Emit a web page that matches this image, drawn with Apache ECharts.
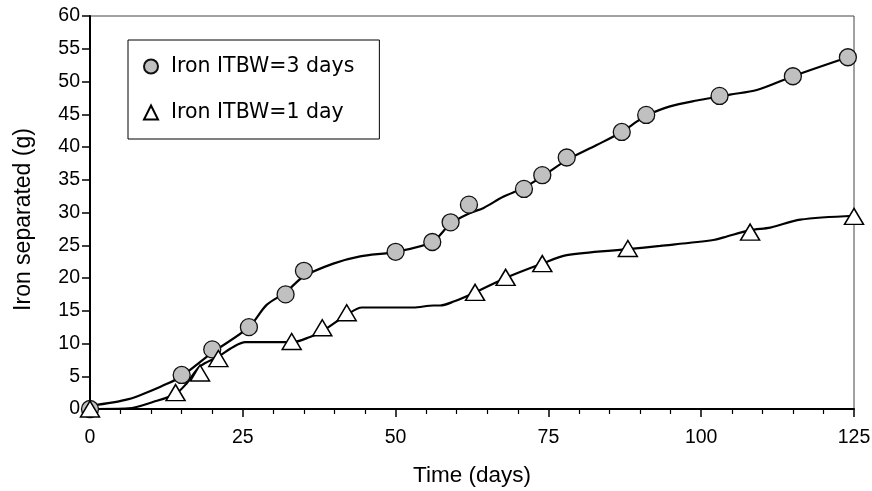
<!DOCTYPE html>
<html><head><meta charset="utf-8">
<script src="https://cdn.jsdelivr.net/npm/echarts@6/dist/echarts.min.js"></script>
<style>html,body{margin:0;padding:0;background:#fff}#c{width:872px;height:491px}</style>
</head><body><div id="c"></div>
<script>
// Measured points: Iron ITBW=3 days (circles)
const days3 = [0, 15, 20, 26, 32, 35, 50, 56, 59, 62, 71, 74, 78, 87, 91, 103, 115, 124];
const iron3 = [0, 5.2, 9.1, 12.5, 17.5, 21.1, 24.0, 25.5, 28.5, 31.2, 33.6, 35.7, 38.4, 42.3, 44.9, 47.8, 50.8, 53.7];
// Measured points: Iron ITBW=1 day (triangles)
const days1 = [0, 14, 18, 21, 33, 38, 42, 63, 68, 74, 88, 108, 125];
const iron1 = [0, 2.5, 5.5, 7.7, 10.3, 12.4, 14.7, 17.8, 20.1, 22.2, 24.5, 27.0, 29.4];
// Trend curves
const trend3X = [0, 6.3, 12.5, 15, 20, 26, 28.9, 32, 34.9, 39.8, 44.2, 50, 56, 59, 62.1, 64.4, 67.6, 71, 74, 78, 82.9, 87, 89.5, 91, 94.9, 99.3, 103, 104.7, 109.1, 115, 124];
const trend3Y = [0.5, 1.5, 3.8, 5.0, 8.6, 12.5, 15.9, 17.8, 20.2, 22.2, 23.3, 24.0, 25.5, 28.3, 29.9, 30.7, 32.4, 33.8, 35.5, 38.0, 40.3, 42.3, 43.9, 44.8, 46.2, 47.1, 47.7, 48.0, 48.7, 50.8, 53.7];
const trend1X = [0, 6.3, 10.4, 14, 15.8, 18, 21, 23.5, 25.4, 33.1, 36, 37.9, 42.2, 44.5, 52.9, 56.2, 57.3, 59.5, 63, 68, 74, 78, 88, 93.3, 102, 103.7, 108, 111.3, 116.2, 125];
const trend1Y = [0, 0.1, 1.1, 2.3, 3.9, 6.5, 8.0, 9.5, 10.2, 10.2, 11.0, 11.8, 14.5, 15.5, 15.5, 15.8, 15.8, 16.4, 17.8, 20.0, 22.2, 23.5, 24.4, 24.9, 25.8, 26.2, 27.3, 27.7, 28.9, 29.5];
const xTicks = [0, 25, 50, 75, 100, 125];
const yTicks = [0, 5, 10, 15, 20, 25, 30, 35, 40, 45, 50, 55, 60];

const zip = (a, b) => a.map((v, i) => [v, b[i]]);
const chart = echarts.init(document.getElementById('c'));
const axisFont = { fontFamily: 'Liberation Sans, Arial', fontSize: 19.5, color: '#000' };
chart.setOption({
  animation: false,
  grid: { left: 90, right: 18, top: 16, bottom: 82, show: true, borderColor: '#444', borderWidth: 1,
          containLabel: false, outerBoundsMode: 'none' },
  legend: {
    left: 128, top: 40, orient: 'vertical',
    data: [
      { name: 'Iron ITBW=3 days', icon: 'circle' },
      { name: 'Iron ITBW=1 day', icon: 'triangle' }
    ],
    itemWidth: 14, itemHeight: 14, itemGap: 25,
    padding: [16, 25, 16, 15],
    borderColor: '#000', borderWidth: 1,
    textStyle: { fontFamily: 'DejaVu Sans', fontSize: 20.5, color: '#000', padding: [0, 0, 0, 8] }
  },
  xAxis: {
    type: 'value', min: 0, max: 125, interval: 25,
    name: 'Time (days)', nameLocation: 'middle', nameGap: 55,
    nameTextStyle: { fontFamily: 'Liberation Sans, Arial', fontSize: 22.5, color: '#000' },
    axisLine: { show: true, lineStyle: { color: '#000', width: 2 } },
    axisTick: { show: true, inside: false, length: 8, lineStyle: { color: '#000', width: 1.5 } },
    minorTick: { show: true, splitNumber: 5, length: 5, lineStyle: { color: '#000', width: 1.2 } },
    splitLine: { show: false },
    axisLabel: Object.assign({ margin: 19, formatter: v => xTicks.includes(v) ? String(v) : '' }, axisFont)
  },
  yAxis: {
    type: 'value', min: 0, max: 60, interval: 5,
    name: 'Iron separated (g)', nameLocation: 'middle', nameGap: 55,
    nameTextStyle: { fontFamily: 'Liberation Sans, Arial', fontSize: 23, color: '#000', padding: [0, 14, 0, 0] },
    axisLine: { show: true, lineStyle: { color: '#000', width: 2 } },
    axisTick: { show: true, inside: false, length: 8, lineStyle: { color: '#000', width: 1.5 } },
    splitLine: { show: false },
    axisLabel: Object.assign({ margin: 10, formatter: v => yTicks.includes(v) ? String(v) : '' }, axisFont)
  },
  series: [
    { name: 'trend3', type: 'line', data: zip(trend3X, trend3Y), showSymbol: false, smooth: 0.3,
      lineStyle: { color: '#000', width: 2.2 }, z: 2, silent: true },
    { name: 'trend1', type: 'line', data: zip(trend1X, trend1Y), showSymbol: false, smooth: 0.3,
      lineStyle: { color: '#000', width: 2.2 }, z: 2, silent: true },
    { name: 'Iron ITBW=3 days', type: 'scatter', data: zip(days3, iron3), symbol: 'circle', symbolSize: 17,
      itemStyle: { color: '#c0c0c0', borderColor: '#111', borderWidth: 1.3, opacity: 1 }, z: 3 },
    { name: 'Iron ITBW=1 day', type: 'scatter', data: zip(days1, iron1), symbol: 'triangle', symbolSize: [19, 16],
      itemStyle: { color: '#fff', borderColor: '#000', borderWidth: 1.5, opacity: 1 }, z: 4 }
  ]
});
</script></body></html>
